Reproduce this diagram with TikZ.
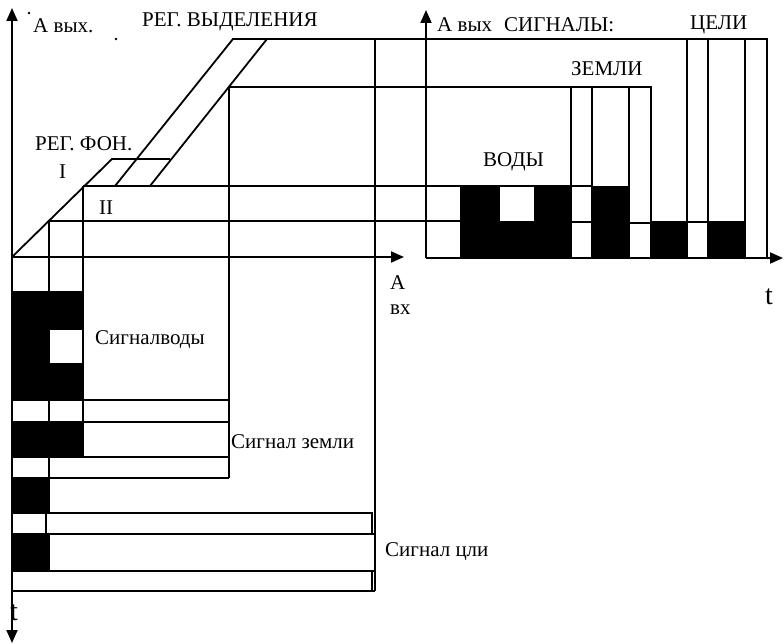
\documentclass[tikz,border=0pt]{standalone}
\usepackage{fontspec}
\setmainfont{Liberation Serif}
\usetikzlibrary{arrows.meta}
\begin{document}
\begin{tikzpicture}[x=1pt,y=-1pt,
  ln/.style={line width=1.8pt},
  axisarrow/.style={line width=1.8pt,-{Triangle[length=13pt,width=11pt]}},
  blk/.style={fill=black},
  wht/.style={fill=white},
  lbl/.style={anchor=west,inner sep=0pt,font=\fontsize{21}{24}\selectfont},
  tlbl/.style={anchor=west,inner sep=0pt,font=\fontsize{28}{30}\selectfont}]
\useasboundingbox (0,0) rectangle (784,644);
% black fills
\fill[blk] (12,292) rectangle (83,400);
\fill[wht] (49,330) rectangle (83,363);
\fill[blk] (12,422) rectangle (83,457);
\fill[blk] (12,478) rectangle (49,513);
\fill[blk] (12,534) rectangle (49,571);
\fill[blk] (461,186) rectangle (571,258);
\fill[wht] (500,186) rectangle (534,221);
\fill[blk] (592,186) rectangle (629,258);
\fill[blk] (651,221) rectangle (687,258);
\fill[blk] (708,221) rectangle (745,258);
% axes
\coordinate (o1) at (12,257);
\coordinate (ytop) at (12,8);
\coordinate (ybot) at (12,643);
\coordinate (xend) at (404,257);
\draw[axisarrow] (12,258) -- (ytop);
\draw[axisarrow] (12,256) -- (ybot);
\draw[axisarrow] (o1) -- (xend);
\coordinate (o2) at (426,258);
\draw[axisarrow] (o2) -- (426,10);
\draw[axisarrow] (o2) -- (783,258);
% transfer characteristic
\draw[ln] (o1) -- (112,159) -- (170,159);
\draw[ln] (115,186) -- (233,39) -- (767,39);
\draw[ln] (150,186) -- (267,39);
\draw[ln] (229,87) -- (651,87);
\draw[ln] (83,186) -- (571,186);
\draw[ln] (49,221) -- (461,221);
% verticals left
\draw[ln] (375,39) -- (375,591);
\draw[ln] (229,87) -- (229,478);
\draw[ln] (83,186) -- (83,457);
\draw[ln] (49,221) -- (49,478);
% left rows
\draw[ln] (12,292) -- (83,292);
\draw[ln] (12,400) -- (229,400);
\draw[ln] (12,422) -- (229,422);
\draw[ln] (12,457) -- (229,457);
\draw[ln] (12,478) -- (229,478);
\draw[ln] (49,478) -- (49,513);
\draw[ln] (12,513) -- (372,513) -- (372,534);
\draw[ln] (46,513) -- (46,534);
\draw[ln] (12,534) -- (375,534);
\draw[ln] (49,534) -- (49,571);
\draw[ln] (12,571) -- (375,571);
\draw[ln] (12,591) -- (375,591);
\draw[ln] (372,571) -- (372,591);
% right bars
\draw[ln] (461,186) -- (461,258);
\draw[ln] (571,87) rectangle (592,258);
\draw[ln] (571,186) -- (592,186);
\draw[ln] (571,222) -- (592,222);
\draw[ln] (629,87) rectangle (651,258);
\draw[ln] (629,223) -- (651,223);
\draw[ln] (687,39) rectangle (708,258);
\draw[ln] (687,222) -- (708,222);
\draw[ln] (745,39) rectangle (767,258);
% dots
\fill (29,13) circle (1.3pt);
\fill (116,39) circle (1.3pt);
% labels
\node[lbl] (aout1) at (33,26) {А вых.};
\node[lbl] (regv) at (142,22) {РЕГ. ВЫДЕЛЕНИЯ};
\node[lbl] (regf) at (35,144) {РЕГ. ФОН.};
\node[lbl] (one) at (59,172) {I};
\node[lbl] (two) at (99,208) {II};
\node[lbl] (aout2) at (437,25) {А вых};
\node[lbl] (sig) at (504,25) {СИГНАЛЫ:};
\node[lbl] (celi) at (690,25) {ЦЕЛИ};
\node[lbl] (zemli) at (571,69) {ЗЕМЛИ};
\node[lbl] (vody) at (483,162) {ВОДЫ};
\node[lbl] (svod) at (95,340) {Сигналводы};
\node[lbl] (szem) at (231,442) {Сигнал земли};
\node[lbl] (scel) at (385,552) {Сигнал цли};
\node[lbl] (ain) at (390,283) {А};
\node[lbl] (vx) at (390,310) {вх};
\node[tlbl] (t1) at (765,297) {t};
\node[tlbl] (t2) at (10,613) {t};
\end{tikzpicture}
\end{document}
